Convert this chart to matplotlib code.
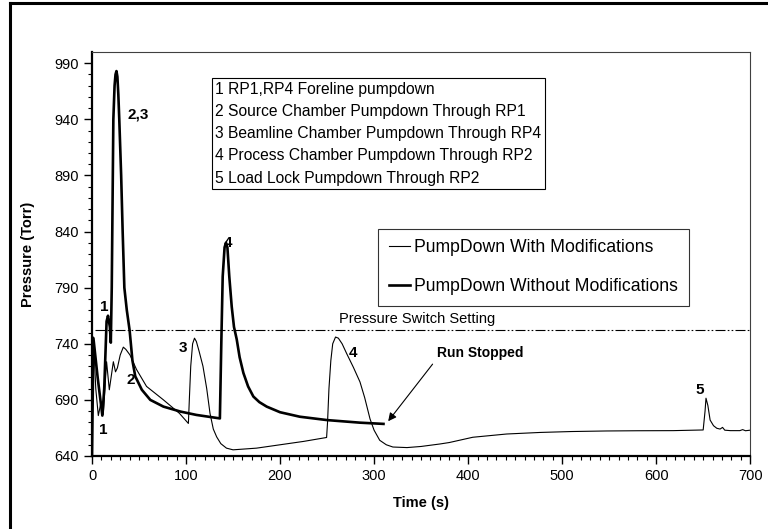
import numpy as np
import matplotlib
matplotlib.use('Agg')
import matplotlib.pyplot as plt
from matplotlib.lines import Line2D

plt.rcParams['font.family'] = ['Liberation Sans', 'DejaVu Sans']

# pumpdown with modifications (thin line)
with_t = [0, 1.5, 4, 6.7, 9.6, 12, 15.5, 18.4, 22.7, 25, 27, 30, 33.3, 36, 40.4,
          47.4, 58, 76, 93, 102.5, 103.5, 105, 107, 109, 111, 114, 118, 122,
          125.5, 129, 132.6, 137, 143, 150, 175, 200, 225, 249.5, 250.5, 252,
          254, 256, 259, 262, 266, 271, 278, 285, 290, 295.7, 300, 306, 313,
          320, 335, 350, 370, 380, 405, 441, 477, 510, 547, 580, 618, 650, 652,
          653, 655, 657.4, 661, 664.5, 668, 670.6, 673, 679, 689, 692, 695, 700]
with_p = [643, 746, 700, 676, 688, 677, 724, 699, 724, 715, 718.5, 730, 737, 735,
          730, 717, 702, 690, 678, 669, 690, 720, 740, 745, 742, 733, 720, 700,
          678, 664, 657, 651, 647, 645.5, 647, 650, 653, 656.5, 670, 700, 725,
          740, 746, 745, 740, 731, 719, 706, 692, 673, 663, 654, 650, 648,
          647.5, 648.5, 650.7, 652, 656.7, 659.6, 661, 661.8, 662.3, 662.5,
          662.6, 663.2, 680, 691.5, 685, 672, 667, 664.7, 664, 665.5, 663,
          662.6, 662.6, 663.5, 662.5, 663]

# pumpdown without modifications (thick line)
without_t = [0, 1.5, 6, 11, 13, 15.5, 17, 19, 20, 21, 22.7, 24, 25, 26, 27,
             28, 29, 31, 32.6, 34.4, 37, 40, 43, 46, 53, 62, 76, 94, 111, 136,
             137.5, 139, 141, 142.5, 144, 146, 148.6, 151, 153.9, 157, 161, 166,
             171.6, 178, 185.8, 200, 221, 250, 285, 310]
without_p = [640, 745, 710, 676, 700, 760, 765, 755, 741, 790, 940, 970, 980,
             983, 978, 962, 940, 890, 840, 790, 770, 752, 725, 711, 699, 690, 684,
             679.6, 676.6, 673.5, 740, 800, 826, 830, 826, 800, 773, 755, 744,
             728, 714, 702, 693, 688, 684, 679, 675, 672, 669.7, 668.6]

switch_setting = 752

steps = [
    "1 RP1,RP4 Foreline pumpdown",
    "2 Source Chamber Pumpdown Through RP1",
    "3 Beamline Chamber Pumpdown Through RP4",
    "4 Process Chamber Pumpdown Through RP2",
    "5 Load Lock Pumpdown Through RP2",
]

# step numbers placed next to the peaks
marks = [("1", 13, 773), ("1", 12, 663), ("2,3", 49, 944), ("2", 41, 708),
         ("3", 97, 736), ("4", 145, 830), ("4", 278, 732), ("5", 646, 699)]

fig = plt.figure(figsize=(7.68, 5.29), dpi=100)
ax = fig.add_axes([0.1198, 0.138, 0.857, 0.7637])

ax.plot(with_t, with_p, color='black', lw=0.8, label='PumpDown With Modifications')
ax.plot(without_t, without_p, color='black', lw=1.9,
        label='PumpDown Without Modifications')

ax.plot([3, 700], [switch_setting, switch_setting], color='black', lw=0.8,
        linestyle=(0, (9, 2, 1.5, 2, 1.5, 2)))
ax.text(346, 762, "Pressure Switch Setting", fontsize=10.5, ha='center', va='center')

for lab, x, y in marks:
    ax.text(x, y, lab, fontsize=11, fontweight='bold', ha='center', va='center')

ax.annotate("Run Stopped", xy=(315, 671), xytext=(367, 732), fontsize=10,
            fontweight='bold', ha='left', va='center',
            arrowprops=dict(arrowstyle='-|>', color='black', lw=0.8,
                            mutation_scale=12, shrinkA=2, shrinkB=0,
                            relpos=(0, 0.1)))

ax.text(0.187, 0.926, "\n".join(steps), transform=ax.transAxes, fontsize=11.25,
        ha='left', va='top', linespacing=1.6,
        bbox=dict(boxstyle='square,pad=0.22', fc='white', ec='black', lw=0.8))

leg = ax.legend(loc='upper left', bbox_to_anchor=(0.435, 0.5624), fontsize=12.7,
                frameon=True, fancybox=False, edgecolor='black', handlelength=1.2,
                handletextpad=0.25, labelspacing=1.25, borderpad=0.6, borderaxespad=0)
leg.get_frame().set_linewidth(0.8)

ax.set_xlim(0, 700)
ax.set_ylim(640, 1000)
ax.set_xticks(np.arange(0, 701, 100))
ax.set_yticks(np.arange(640, 991, 50))
ax.set_xticks(np.arange(0, 701, 10), minor=True)
ax.set_yticks(np.arange(640, 1000, 10), minor=True)
ax.tick_params(which='major', direction='out', length=6, width=1, labelsize=10.5)
ax.tick_params(which='minor', direction='out', length=3, width=0.8)

for s in ['left', 'bottom']:
    ax.spines[s].set_linewidth(1.6)
for s in ['top', 'right']:
    ax.spines[s].set_linewidth(0.8)
    ax.spines[s].set_color('#404040')

ax.set_xlabel("Time (s)", fontsize=10.5, fontweight='bold', labelpad=9)
ax.set_ylabel("Pressure (Torr)", fontsize=10.5, fontweight='bold', labelpad=14)

# outer frame (left and top edges visible)
fig.add_artist(Line2D([0.013, 0.013], [0, 0.994], transform=fig.transFigure,
                      color='black', lw=2.2))
fig.add_artist(Line2D([0.013, 1.0], [0.994, 0.994], transform=fig.transFigure,
                      color='black', lw=2.2))

fig.savefig('out.png', dpi=100)
